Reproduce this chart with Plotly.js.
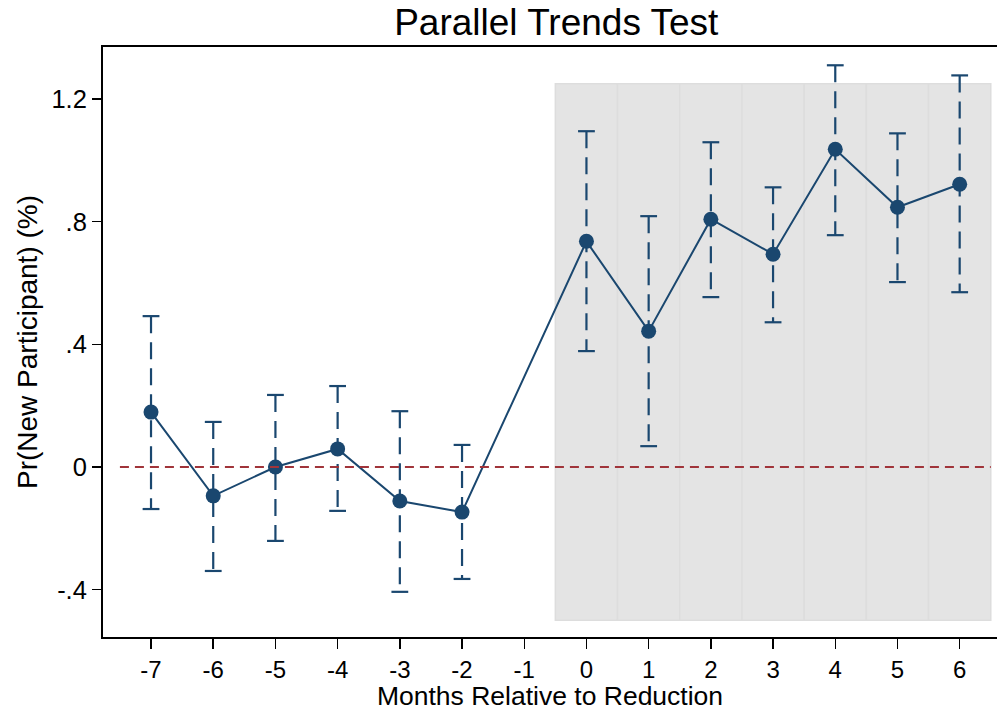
<!DOCTYPE html>
<html>
<head>
<meta charset="utf-8">
<script src="https://cdn.plot.ly/plotly-3.0.1.min.js"></script>
<style>html,body{margin:0;padding:0;background:#fff;}#chart{width:997px;height:711px;}</style>
</head>
<body>
<div id="chart"></div>
<script>
// Data
const months = [-7, -6, -5, -4, -3, -2, 0, 1, 2, 3, 4, 5, 6];
const estimate = [0.179, -0.094, 0.0, 0.059, -0.111, -0.147, 0.736, 0.443, 0.808, 0.694, 1.036, 0.847, 0.922];
const ciLower = [-0.137, -0.339, -0.241, -0.143, -0.407, -0.365, 0.378, 0.068, 0.554, 0.472, 0.756, 0.603, 0.570];
const ciUpper = [0.492, 0.147, 0.235, 0.264, 0.182, 0.072, 1.095, 0.818, 1.059, 0.912, 1.310, 1.088, 1.277];
const postMonths = [0, 1, 2, 3, 4, 5, 6];
const xTicks = [-7, -6, -5, -4, -3, -2, -1, 0, 1, 2, 3, 4, 5, 6];
const yTickVals = [-0.4, 0, 0.4, 0.8, 1.2];
const yTickText = ['-.4', '0', '.4', '.8', '1.2'];

const navy = '#1a476f';
const font = 'Liberation Sans, Arial, Helvetica, sans-serif';

// error bar stems (drawn from upper to lower bound)
const ex = [], ey = [];
months.forEach((m, i) => { ex.push(m, m, null); ey.push(ciUpper[i], ciLower[i], null); });
// caps
const cx = [], cy = [];
months.forEach((m, i) => { cx.push(m, m); cy.push(ciLower[i], ciUpper[i]); });

const traces = [
  {x: ex, y: ey, mode: 'lines', type: 'scatter', hoverinfo: 'skip',
   line: {color: navy, width: 2.2, dash: '17px,9px'}, showlegend: false},
  {x: cx, y: cy, mode: 'markers', type: 'scatter', hoverinfo: 'skip',
   marker: {symbol: 'line-ew', size: 12, color: navy, line: {color: navy, width: 2.2}}, showlegend: false},
  {x: months, y: estimate, mode: 'lines+markers', type: 'scatter',
   line: {color: navy, width: 2}, marker: {color: navy, size: 15}, showlegend: false}
];

const shapes = postMonths.map(m => ({
  type: 'rect', xref: 'x', yref: 'y', x0: m - 0.5, x1: m + 0.5, y0: -0.5, y1: 1.25,
  fillcolor: '#e4e4e4', line: {color: '#dddddd', width: 1.5}, layer: 'below'
}));
shapes.push({
  type: 'line', xref: 'x', yref: 'y', x0: Math.min(...months) - 0.5, x1: Math.max(...months) + 0.5,
  y0: 0, y1: 0, line: {color: '#a0343a', width: 2, dash: '9px,6px'}, layer: 'above'
});

const layout = {
  width: 997, height: 711,
  margin: {l: 103, r: 0, t: 47, b: 74},
  paper_bgcolor: '#fff', plot_bgcolor: '#fff',
  font: {family: font, color: '#000'},
  title: {text: 'Parallel Trends Test', font: {family: font, size: 37, color: '#000'},
          x: 0.507, xref: 'paper', xanchor: 'center', y: 0.969, yref: 'container', yanchor: 'middle'},
  xaxis: {
    range: [-7.772, 6.60], tickvals: xTicks, ticktext: xTicks.map(String),
    ticks: 'outside', ticklen: 10, tickwidth: 1.5, tickcolor: '#000',
    showline: true, linecolor: '#000', linewidth: 2, mirror: true,
    showgrid: false, zeroline: false,
    tickfont: {size: 24, family: font},
    title: {text: 'Months Relative to Reduction', font: {size: 26.5, family: font}, standoff: 2}
  },
  yaxis: {
    range: [-0.5543, 1.3696], tickvals: yTickVals, ticktext: yTickText,
    ticks: 'outside', ticklen: 9, tickwidth: 1.5, tickcolor: '#000',
    showline: true, linecolor: '#000', linewidth: 2,
    showgrid: false, zeroline: false,
    tickfont: {size: 25.5, family: font},
    title: {text: 'Pr(New Participant) (%)', font: {size: 28, family: font}, standoff: 6}
  },
  shapes: shapes
};

Plotly.newPlot('chart', traces, layout, {staticPlot: true, displayModeBar: false});
</script>
</body>
</html>
